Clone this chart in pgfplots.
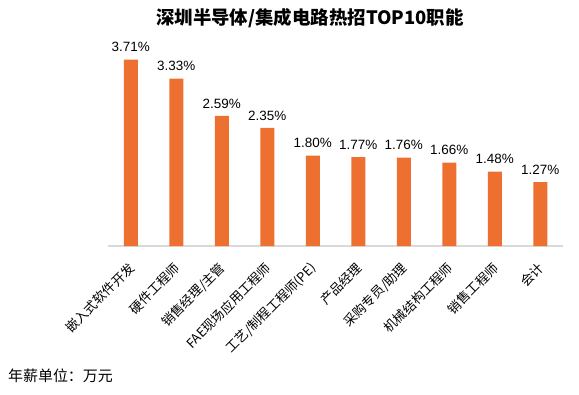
\documentclass[border=0pt]{standalone}
\usepackage{fontspec}
\setmainfont{Noto Sans CJK SC}
\newfontfamily\latin{Liberation Sans}
\usepackage{pgfplots}
\pgfplotsset{compat=1.18}
\definecolor{barc}{HTML}{ED7031}
\definecolor{axc}{HTML}{D9D9D9}
\begin{document}
\begin{tikzpicture}[x=1bp,y=1bp]
\path[use as bounding box] (0,0) rectangle (579,394);
\begin{axis}[
  at={(108bp,148bp)}, anchor=south west,
  scale only axis, width=455bp, height=196bp,
  xmin=-0.5, xmax=9.5, ymin=0, ymax=3.9,
  axis x line=bottom, axis y line=none,
  x axis line style={-, color=axc, line width=1.5bp},
  xtick={0,...,9},
  xticklabels={嵌入式软件开发,硬件工程师,销售经理/主管,FAE现场应用工程师,工艺/制程工程师(PE),产品经理,采购专员/助理,机械结构工程师,销售工程师,会计},
  major tick length=0pt,
  xticklabel style={xshift=2bp, yshift=-19bp, rotate=45, anchor=east, font=\fontsize{13}{13}\selectfont, inner sep=1bp},
  ybar, bar width=14bp,
  nodes near coords={\pgfmathprintnumber[fixed,precision=2,fixed zerofill]{\pgfplotspointmeta}\%},
  every node near coord/.append style={font=\latin\fontsize{13.5}{13.5}\selectfont, text=black, /pgf/number format/assume math mode=true, yshift=4bp},
  clip=false,
]
\addplot[fill=barc, draw=none] coordinates {(0,3.71) (1,3.33) (2,2.59) (3,2.35) (4,1.80) (5,1.77) (6,1.76) (7,1.66) (8,1.48) (9,1.27)};
\end{axis}
\node[font=\bfseries\fontsize{18.5}{18.5}\selectfont] at (310,376) {深圳半导体/集成电路热招TOP10职能};
\node[anchor=west, font=\fontsize{15}{15}\selectfont, inner sep=0] at (8,18) {年薪单位：万元};
\end{tikzpicture}
\end{document}
